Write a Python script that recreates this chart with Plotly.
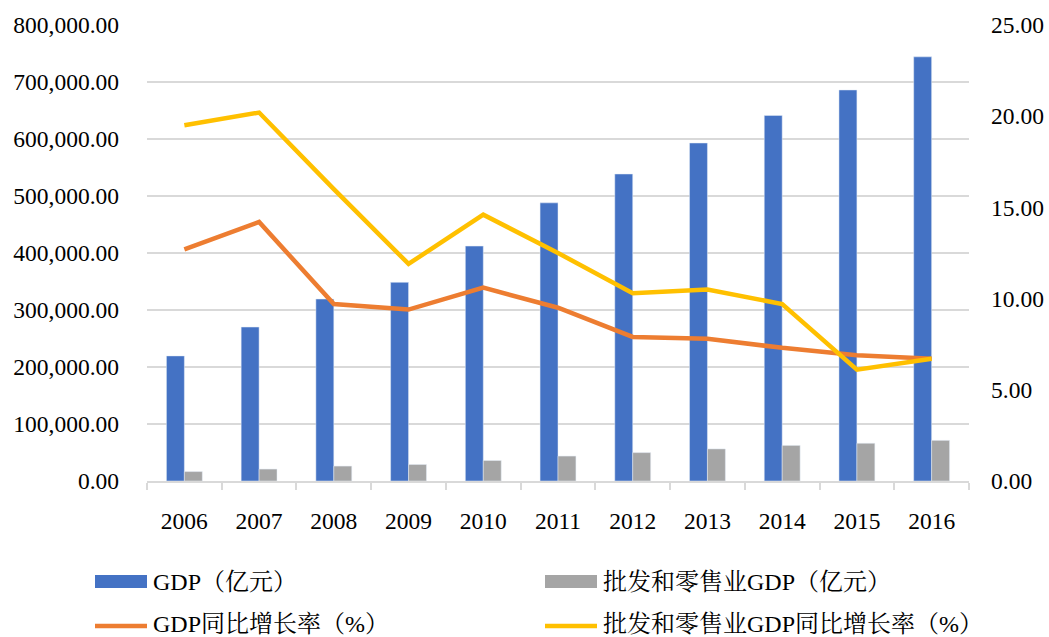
import plotly.graph_objects as go

years = ["2006", "2007", "2008", "2009", "2010", "2011", "2012", "2013", "2014", "2015", "2016"]
gdp = [219439, 270092, 319245, 348518, 412119, 487940, 538580, 592963, 641281, 685993, 744127]
retail_gdp = [16531, 20938, 26182, 28984, 35904, 43730, 49831, 56284, 62423, 66187, 71290]
gdp_growth = [12.7, 14.2, 9.7, 9.4, 10.6, 9.5, 7.9, 7.8, 7.3, 6.9, 6.7]
retail_growth = [19.5, 20.2, 16.0, 11.9, 14.6, 12.5, 10.3, 10.5, 9.7, 6.1, 6.7]

names = ["GDP（亿元）", "批发和零售业GDP（亿元）", "GDP同比增长率（%）", "批发和零售业GDP同比增长率（%）"]
colors = ["#4472C4", "#A5A5A5", "#ED7D31", "#FFC000"]

W, H = 1049, 637
L, R, T, B = 147, 969, 25, 481  # plot area in pixels
FONT = "Liberation Serif, 'Noto Serif CJK SC', 'Noto Sans CJK SC', serif"
TICK_FONT = dict(family=FONT, size=23.5, color="#000000")

def px_x(x):
    return (x - L) / (R - L)

def px_y(y):
    return (B - y) / (B - T)

fig = go.Figure()
fig.add_trace(go.Bar(x=years, y=gdp, name=names[0], marker_color=colors[0], showlegend=False))
fig.add_trace(go.Bar(x=years, y=retail_gdp, name=names[1], marker_color=colors[1], showlegend=False))
fig.add_trace(go.Scatter(x=years, y=gdp_growth, name=names[2], mode="lines",
                         line=dict(color=colors[2], width=4.5), yaxis="y2", showlegend=False))
fig.add_trace(go.Scatter(x=years, y=retail_growth, name=names[3], mode="lines",
                         line=dict(color=colors[3], width=4.5), yaxis="y2", showlegend=False))

shapes = []
annotations = []
# custom legend: (symbol kind, x-left px, symbol center px, text center px)
legend_pos = [("rect", 95, 581.5, 582), ("rect", 545, 581.5, 582),
              ("line", 95, 626, 624), ("line", 545, 626, 624)]
for i, (kind, x0, yc, yt) in enumerate(legend_pos):
    if kind == "rect":
        shapes.append(dict(type="rect", xref="paper", yref="paper",
                           x0=px_x(x0), x1=px_x(x0 + 52), y0=px_y(yc - 6.5), y1=px_y(yc + 6.5),
                           fillcolor=colors[i], line=dict(width=0)))
    else:
        shapes.append(dict(type="line", xref="paper", yref="paper",
                           x0=px_x(x0), x1=px_x(x0 + 52), y0=px_y(yc), y1=px_y(yc),
                           line=dict(color=colors[i], width=4.5)))
    annotations.append(dict(xref="paper", yref="paper", x=px_x(x0 + 56), y=px_y(yt),
                            xanchor="left", yanchor="middle", showarrow=False,
                            text=names[i], font=dict(family=FONT, size=24, color="#000000")))

fig.update_layout(
    width=W, height=H,
    margin=dict(l=L, r=W - R, t=T, b=H - B, autoexpand=False),
    paper_bgcolor="white", plot_bgcolor="white",
    barmode="group", bargap=0.52, bargroupgap=0,
    font=dict(family=FONT, size=23.5, color="#000000"),
    showlegend=False,
    xaxis=dict(type="category", showline=True, linecolor="#D9D9D9", linewidth=1.5,
               ticks="outside", tickson="boundaries", ticklen=7, tickcolor="#D9D9D9", tickwidth=1.5,
               ticklabelstandoff=18, showgrid=False, automargin=False, tickfont=TICK_FONT),
    yaxis=dict(range=[0, 800000], dtick=100000, tickformat=",.2f", showgrid=True,
               gridcolor="#D9D9D9", gridwidth=1.5, zeroline=False, showline=False,
               ticklabelstandoff=27, automargin=False, tickfont=TICK_FONT),
    yaxis2=dict(range=[0, 25], dtick=5, tickformat=".2f", overlaying="y", side="right",
                showgrid=False, zeroline=False, showline=False, ticklabelstandoff=21,
                automargin=False, tickfont=TICK_FONT),
    shapes=shapes,
    annotations=annotations,
)

fig.write_html("out.html", config={"displayModeBar": False},
               post_script="document.body.style.margin='0';document.body.style.overflow='hidden';")
